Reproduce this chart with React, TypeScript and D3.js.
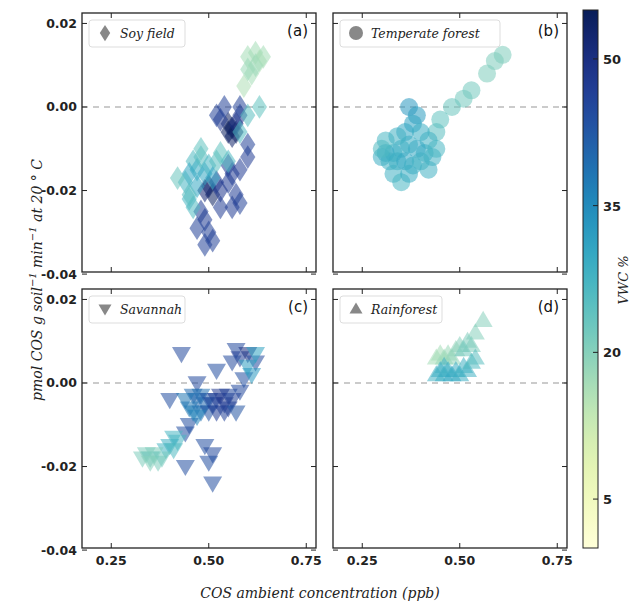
import * as d3 from 'd3'

type Pt = [number, number, number]

// [COS ppb, flux, VWC %]
const soy: Pt[] = [
  [0.6, 0.012, 17], [0.62, 0.013, 17], [0.63, 0.011, 16], [0.61, 0.008, 17], [0.59, 0.005, 16],
  [0.62, 0.01, 18], [0.64, 0.012, 17], [0.6, 0.009, 18],
  [0.56, -0.005, 54], [0.55, -0.004, 54], [0.57, -0.006, 54], [0.56, -0.007, 53], [0.55, -0.006, 54],
  [0.53, -0.003, 48], [0.57, -0.004, 50], [0.58, -0.002, 48], [0.6, -0.012, 47], [0.58, -0.015, 47],
  [0.52, -0.002, 46], [0.54, 0.0, 46], [0.58, 0.0, 46], [0.6, -0.009, 46], [0.55, -0.014, 47],
  [0.5, -0.019, 54], [0.51, -0.021, 54], [0.49, -0.02, 52], [0.52, -0.018, 48], [0.55, -0.018, 47],
  [0.57, -0.021, 47], [0.58, -0.023, 46], [0.56, -0.024, 47], [0.53, -0.024, 47], [0.48, -0.025, 47],
  [0.49, -0.027, 47], [0.5, -0.03, 46], [0.49, -0.033, 46], [0.51, -0.032, 46], [0.47, -0.029, 46],
  [0.56, -0.016, 47], [0.53, -0.02, 48],
  [0.46, -0.013, 26], [0.47, -0.015, 29], [0.45, -0.016, 30], [0.48, -0.012, 25], [0.49, -0.016, 30],
  [0.5, -0.014, 27], [0.52, -0.013, 25], [0.53, -0.011, 24], [0.55, -0.013, 26], [0.51, -0.017, 31],
  [0.44, -0.018, 27], [0.47, -0.019, 30], [0.45, -0.022, 27], [0.46, -0.024, 26], [0.42, -0.017, 23],
  [0.6, -0.002, 25], [0.63, 0.0, 24], [0.58, -0.006, 26], [0.48, -0.01, 24], [0.45, -0.021, 25],
]

const temperate: Pt[] = [
  [0.61, 0.0125, 21], [0.59, 0.011, 21], [0.57, 0.008, 21], [0.53, 0.004, 22], [0.51, 0.002, 22],
  [0.48, 0.0, 23], [0.45, -0.003, 24], [0.44, -0.006, 25],
  [0.37, 0.0, 33], [0.39, -0.002, 32], [0.38, -0.004, 31], [0.36, -0.006, 30], [0.4, -0.006, 29],
  [0.42, -0.008, 28], [0.41, -0.011, 29], [0.39, -0.01, 30], [0.37, -0.009, 29], [0.35, -0.01, 29],
  [0.33, -0.011, 29], [0.31, -0.011, 30], [0.3, -0.012, 29], [0.32, -0.013, 28], [0.34, -0.013, 29],
  [0.36, -0.013, 30], [0.38, -0.014, 29], [0.4, -0.013, 28], [0.43, -0.012, 28], [0.44, -0.01, 27],
  [0.31, -0.008, 27], [0.33, -0.016, 28], [0.35, -0.018, 27], [0.37, -0.016, 29], [0.42, -0.015, 28],
  [0.3, -0.01, 26], [0.34, -0.007, 28],
]

const savannah: Pt[] = [
  [0.43, 0.007, 45], [0.57, 0.008, 45], [0.58, 0.006, 47], [0.6, 0.007, 50], [0.62, 0.005, 45],
  [0.56, 0.005, 45], [0.52, 0.003, 44], [0.47, 0.0, 45], [0.55, -0.003, 45], [0.4, -0.004, 44],
  [0.45, -0.01, 44], [0.44, -0.012, 44], [0.49, -0.015, 44], [0.51, -0.017, 45], [0.5, -0.019, 44],
  [0.44, -0.02, 44], [0.51, -0.024, 44], [0.58, -0.002, 45], [0.59, 0.001, 44],
  [0.62, 0.007, 31], [0.6, 0.004, 32], [0.61, 0.002, 33],
  [0.46, -0.003, 40], [0.47, -0.004, 40], [0.48, -0.003, 39], [0.49, -0.005, 40], [0.5, -0.004, 43],
  [0.51, -0.005, 45], [0.52, -0.004, 47], [0.53, -0.003, 48], [0.54, -0.005, 48], [0.55, -0.006, 47],
  [0.56, -0.004, 46], [0.45, -0.006, 38], [0.46, -0.007, 37], [0.48, -0.007, 39], [0.5, -0.007, 43],
  [0.52, -0.007, 47], [0.54, -0.007, 46], [0.57, -0.007, 43], [0.44, -0.004, 38], [0.47, -0.008, 36],
  [0.41, -0.013, 27], [0.42, -0.014, 27], [0.4, -0.015, 28], [0.39, -0.016, 27], [0.41, -0.016, 26],
  [0.33, -0.018, 21], [0.34, -0.017, 21], [0.35, -0.018, 22], [0.36, -0.017, 21], [0.37, -0.019, 21],
  [0.35, -0.019, 20], [0.38, -0.018, 22],
]

const rainforest: Pt[] = [
  [0.56, 0.015, 20], [0.54, 0.012, 20], [0.52, 0.01, 21], [0.53, 0.009, 21], [0.5, 0.009, 20],
  [0.49, 0.008, 19], [0.47, 0.007, 18], [0.45, 0.007, 17], [0.44, 0.006, 17], [0.46, 0.006, 18],
  [0.48, 0.006, 19], [0.51, 0.008, 22],
  [0.44, 0.002, 28], [0.45, 0.003, 29], [0.46, 0.002, 29], [0.47, 0.003, 29], [0.48, 0.002, 30],
  [0.49, 0.003, 29], [0.5, 0.002, 29], [0.51, 0.004, 28], [0.52, 0.003, 28], [0.53, 0.005, 26],
  [0.54, 0.006, 25], [0.46, 0.004, 28],
]

const xTicks = [0.25, 0.5, 0.75]
const yTicks = [-0.04, -0.02, 0, 0.02]
const cbTicks = [5, 20, 35, 50]

type Panel = { data: Pt[]; name: string; tag: string; shape: string; col: number; row: number }
const panels: Panel[] = [
  { data: soy, name: 'Soy field', tag: '(a)', shape: 'diamond', col: 0, row: 0 },
  { data: temperate, name: 'Temperate forest', tag: '(b)', shape: 'circle', col: 1, row: 0 },
  { data: savannah, name: 'Savannah', tag: '(c)', shape: 'down', col: 0, row: 1 },
  { data: rainforest, name: 'Rainforest', tag: '(d)', shape: 'up', col: 1, row: 1 },
]

const color = d3.scaleSequential(d3.interpolateYlGnBu).domain([0, 55])

function marker(shape: string, s: number): string {
  if (shape === 'diamond') return `M0,${-s * 1.25}L${s * 0.8},0L0,${s * 1.25}L${-s * 0.8},0Z`
  if (shape === 'down') return `M${-s},${-s * 0.7}L${s},${-s * 0.7}L0,${s}Z`
  if (shape === 'up') return `M${-s},${s * 0.7}L${s},${s * 0.7}L0,${-s}Z`
  return ''
}

export default function App() {
  const pw = 234
  const ph = 259
  const lefts = [82, 333]
  const tops = [13, 289]
  const serif = 'DejaVu Serif, serif'
  const cbX = 583
  const cbY = d3.scaleLinear().domain([0, 55]).range([548, 10])
  const stops = d3.range(0, 1.01, 0.05)

  return (
    <svg width={638} height={608} style={{ position: 'absolute', left: 0, top: 0, fontFamily: 'DejaVu Sans, sans-serif' }}>
      <defs>
        <linearGradient id="cb" x1="0" y1="1" x2="0" y2="0">
          {stops.map((t) => (
            <stop key={t} offset={t} stopColor={color(t * 55)} />
          ))}
        </linearGradient>
      </defs>
      {panels.map((p) => {
        const x0 = lefts[p.col]
        const y0 = tops[p.row]
        const x = d3.scaleLinear().domain([0.175, 0.775]).range([x0, x0 + pw])
        const y = d3.scaleLinear().domain([-0.0395, 0.0225]).range([y0 + ph, y0])
        const legendShape = p.shape
        return (
          <g key={p.tag}>
            <line x1={x0} x2={x0 + pw} y1={y(0)} y2={y(0)} stroke="#bbb" strokeDasharray="6,5" strokeWidth={1.3} />
            {p.data.map((d, i) =>
              p.shape === 'circle' ? (
                <circle key={i} cx={x(d[0])} cy={y(d[1])} r={9} fill={color(d[2])} opacity={0.55} />
              ) : (
                <path key={i} transform={`translate(${x(d[0])},${y(d[1])})`} d={marker(p.shape, 9.5)} fill={color(d[2])} opacity={0.55} />
              ),
            )}
            <rect x={x0} y={y0} width={pw} height={ph} fill="none" stroke="#222" strokeWidth={1.3} />
            {xTicks.map((t) => (
              <g key={t}>
                <line x1={x(t)} x2={x(t)} y1={y0 + ph} y2={y0 + ph - 5} stroke="#222" />
                <line x1={x(t)} x2={x(t)} y1={y0} y2={y0 + 5} stroke="#222" />
                {p.row === 1 && (
                  <text x={x(t)} y={y0 + ph + 17} textAnchor="middle" fontSize={12.5} fontWeight="bold" fill="#222">
                    {t.toFixed(2)}
                  </text>
                )}
              </g>
            ))}
            {yTicks.map((t) => (
              <g key={t}>
                <line x1={x0} x2={x0 + 5} y1={y(t)} y2={y(t)} stroke="#222" />
                <line x1={x0 + pw} x2={x0 + pw - 5} y1={y(t)} y2={y(t)} stroke="#222" />
                {p.col === 0 && (
                  <text x={x0 - 5} y={y(t) + 4.5} textAnchor="end" fontSize={12.5} fontWeight="bold" fill="#222">
                    {t.toFixed(2)}
                  </text>
                )}
              </g>
            ))}
            <rect x={x0 + 7} y={y0 + 7} width={p.shape === 'circle' ? 160 : p.shape === 'up' ? 102 : 96} height={27} rx={3} fill="white" stroke="#ddd" />
            {legendShape === 'circle' ? (
              <circle cx={x0 + 23} cy={y0 + 20} r={7} fill="#888" />
            ) : (
              <path transform={`translate(${x0 + 23},${y0 + 20})`} d={marker(legendShape, 6.5)} fill="#888" />
            )}
            <text x={x0 + 38} y={y0 + 25} fontSize={12.5} fontStyle="italic" fontFamily={serif} fill="#222">
              {p.name}
            </text>
            <text x={x0 + pw - 8} y={y0 + 23} textAnchor="end" fontSize={15} fill="#111">
              {p.tag}
            </text>
          </g>
        )
      })}
      <text x={320} y={598} textAnchor="middle" fontSize={14} fontStyle="italic" fontFamily={serif} fill="#222">
        COS ambient concentration (ppb)
      </text>
      <text transform="translate(42,280) rotate(-90)" textAnchor="middle" fontSize={14} fontStyle="italic" fontFamily={serif} fill="#222">
        pmol COS g  soil<tspan dy={-6} fontSize={10}>−1</tspan><tspan dy={6}>  min</tspan>
        <tspan dy={-6} fontSize={10}>−1</tspan><tspan dy={6}>  at 20 ° C</tspan>
      </text>
      <rect x={cbX} y={10} width={15} height={538} fill="url(#cb)" stroke="#222" />
      {cbTicks.map((t) => (
        <g key={t}>
          <line x1={cbX + 10} x2={cbX + 15} y1={cbY(t)} y2={cbY(t)} stroke="#222" />
          <text x={cbX + 20} y={cbY(t) + 5} fontSize={13} fontWeight="bold" fill="#222">
            {t}
          </text>
        </g>
      ))}
      <text transform="translate(628,280) rotate(-90)" textAnchor="middle" fontSize={13} fontStyle="italic" fontFamily={serif} fill="#222">
        VWC %
      </text>
    </svg>
  )
}
